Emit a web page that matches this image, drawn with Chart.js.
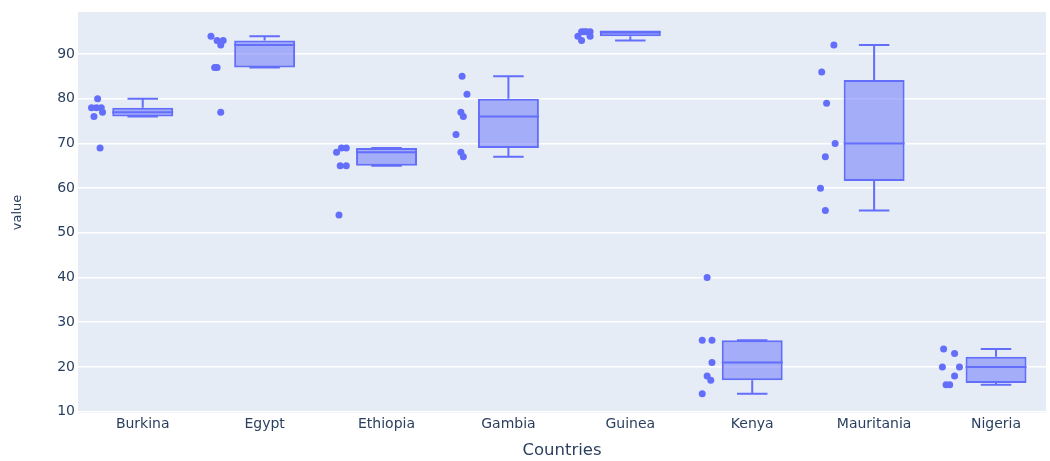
<!DOCTYPE html>
<html>
<head>
<meta charset="utf-8">
<script src="https://cdn.jsdelivr.net/npm/chart.js@4"></script>
<style>
  html, body { margin: 0; padding: 0; background: #ffffff; }
  #wrap { width: 1050px; height: 461px; position: relative; }
</style>
</head>
<body>
<div id="wrap"><canvas id="c"></canvas></div>
<script>
// ---- data ----
const categories = ['Burkina', 'Egypt', 'Ethiopia', 'Gambia', 'Guinea', 'Kenya', 'Mauritania', 'Nigeria'];
const lowerWhisker = [76, 87, 65, 67, 93, 14, 55, 16];
const q1Values     = [76, 87, 65, 69, 94, 17, 61.6, 16.4];
const medianValues = [77, 92, 68, 76, 95, 21, 70, 20];
const q3Values     = [78, 93, 69, 80, 95, 26, 84.2, 22.3];
const upperWhisker = [80, 94, 69, 85, 95, 26, 92, 24];

const burkinaPoints    = [80, 78, 78, 78, 77, 76, 69];
const egyptPoints      = [94, 93, 93, 92, 87, 87, 77];
const ethiopiaPoints   = [69, 69, 68, 65, 65, 54];
const gambiaPoints     = [85, 81, 77, 76, 72, 68, 67];
const guineaPoints     = [95, 95, 95, 95, 94, 94, 93];
const kenyaPoints      = [40, 26, 26, 21, 18, 17, 14];
const mauritaniaPoints = [92, 86, 79, 70, 67, 60, 55];
const nigeriaPoints    = [24, 23, 20, 20, 18, 16, 16];

// horizontal jitter of each point (category units)
const burkinaJitter    = [-0.37, -0.42, -0.38, -0.34, -0.33, -0.40, -0.35];
const egyptJitter      = [-0.44, -0.39, -0.34, -0.36, -0.41, -0.39, -0.36];
const ethiopiaJitter   = [-0.37, -0.33, -0.41, -0.38, -0.33, -0.39];
const gambiaJitter     = [-0.38, -0.34, -0.39, -0.37, -0.43, -0.39, -0.37];
const guineaJitter     = [-0.40, -0.36, -0.33, -0.38, -0.43, -0.33, -0.40];
const kenyaJitter      = [-0.37, -0.41, -0.33, -0.33, -0.37, -0.34, -0.41];
const mauritaniaJitter = [-0.33, -0.43, -0.39, -0.32, -0.40, -0.44, -0.40];
const nigeriaJitter    = [-0.43, -0.34, -0.44, -0.30, -0.34, -0.41, -0.38];

const yTicks = [10, 20, 30, 40, 50, 60, 70, 80, 90];

// ---- build datasets ----
const allPoints = [burkinaPoints, egyptPoints, ethiopiaPoints, gambiaPoints, guineaPoints, kenyaPoints, mauritaniaPoints, nigeriaPoints];
const allJitter = [burkinaJitter, egyptJitter, ethiopiaJitter, gambiaJitter, guineaJitter, kenyaJitter, mauritaniaJitter, nigeriaJitter];

const COLOR = '#636efa';
const FILL = 'rgba(99,110,250,0.5)';
const TEXT = '#2a3f5f';
const BOX_HALF = 0.25;
const CAP_HALF = 0.125;

const scatterData = [];
allPoints.forEach((pts, i) => {
  pts.forEach((v, j) => scatterData.push({ x: i + allJitter[i][j], y: v }));
});

const boxData = categories.map((c, i) => ({ x: i, y: [q1Values[i], q3Values[i]] }));

const lineData = [];
categories.forEach((c, i) => {
  lineData.push({ x: i - BOX_HALF, y: medianValues[i] }, { x: i + BOX_HALF, y: medianValues[i] }, { x: i, y: null });
  lineData.push({ x: i, y: q3Values[i] }, { x: i, y: upperWhisker[i] }, { x: i, y: null });
  lineData.push({ x: i - CAP_HALF, y: upperWhisker[i] }, { x: i + CAP_HALF, y: upperWhisker[i] }, { x: i, y: null });
  lineData.push({ x: i, y: q1Values[i] }, { x: i, y: lowerWhisker[i] }, { x: i, y: null });
  lineData.push({ x: i - CAP_HALF, y: lowerWhisker[i] }, { x: i + CAP_HALF, y: lowerWhisker[i] }, { x: i, y: null });
});

const plotBg = {
  id: 'plotBg',
  beforeDraw(chart) {
    const { ctx, chartArea: a } = chart;
    ctx.save();
    ctx.fillStyle = '#e5ecf6';
    ctx.fillRect(a.left, a.top, a.right - a.left, a.bottom - a.top);
    ctx.restore();
  }
};

const FONT = "'DejaVu Sans', Verdana, sans-serif";

new Chart(document.getElementById('c'), {
  data: {
    datasets: [
      {
        type: 'line',
        data: lineData,
        borderColor: COLOR,
        borderWidth: 2,
        pointRadius: 0,
        spanGaps: false,
        tension: 0,
        fill: false,
        order: 1
      },
      {
        type: 'bar',
        data: boxData,
        backgroundColor: FILL,
        borderColor: COLOR,
        borderWidth: 2,
        borderSkipped: false,
        barPercentage: 0.5,
        categoryPercentage: 1.0,
        order: 2
      },
      {
        type: 'scatter',
        data: scatterData,
        backgroundColor: COLOR,
        borderWidth: 0,
        pointRadius: 3.5,
        order: 0
      }
    ]
  },
  options: {
    responsive: true,
    maintainAspectRatio: false,
    animation: false,
    layout: { padding: { top: 12, right: 0, left: 0, bottom: 0 } },
    plugins: { legend: { display: false }, tooltip: { enabled: false } },
    scales: {
      x: {
        type: 'linear',
        offset: false,
        min: -0.531,
        max: 7.41,
        grid: { display: false, drawTicks: false, offset: false },
        border: { display: false },
        afterBuildTicks(axis) { axis.ticks = categories.map((c, i) => ({ value: i })); },
        afterFit(axis) { axis.height = 48; },
        ticks: {
          autoSkip: false,
          maxRotation: 0,
          padding: 3,
          color: TEXT,
          font: { family: FONT, size: 14 },
          callback: (v) => categories[v]
        },
        title: {
          display: true,
          text: 'Countries',
          color: TEXT,
          font: { family: FONT, size: 16.5 },
          padding: 0
        }
      },
      y: {
        type: 'linear',
        min: 9.7,
        max: 99.4,
        grid: { color: '#ffffff', lineWidth: 1.5, drawTicks: false },
        border: { display: false },
        afterBuildTicks(axis) { axis.ticks = yTicks.map(v => ({ value: v })); },
        afterFit(axis) { axis.width = 78; },
        ticks: {
          padding: 3,
          color: TEXT,
          font: { family: FONT, size: 14 }
        },
        title: {
          display: true,
          text: 'value',
          color: TEXT,
          font: { family: FONT, size: 13 },
          padding: { top: 10, bottom: 0 }
        }
      }
    }
  },
  plugins: [plotBg]
});
</script>
</body>
</html>
